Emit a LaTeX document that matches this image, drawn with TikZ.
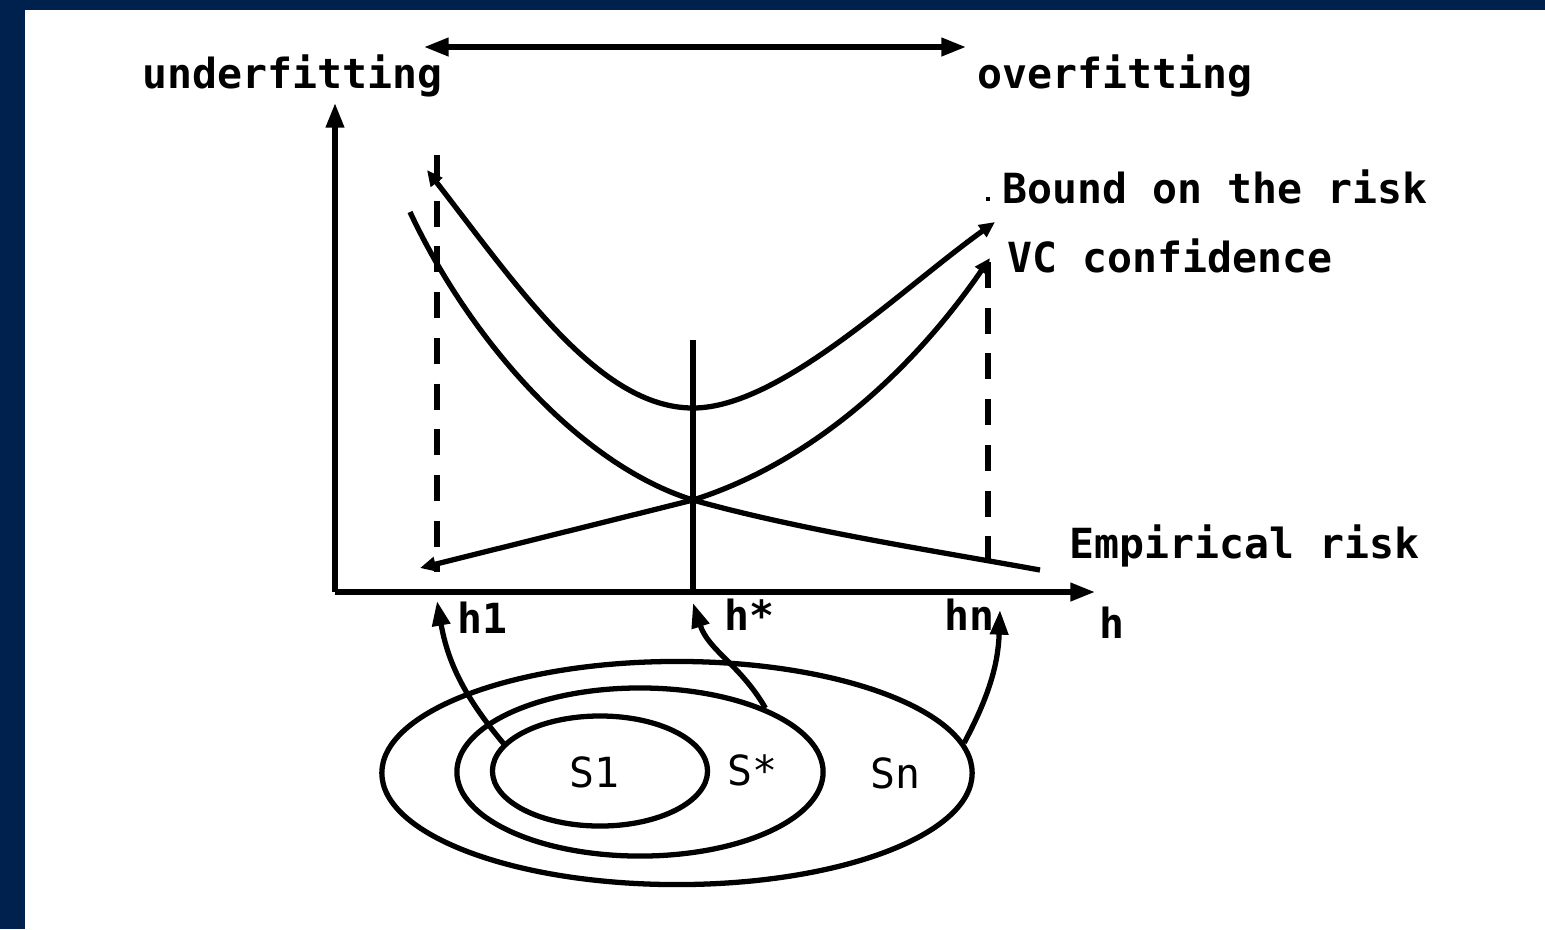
\documentclass[tikz,border=0pt]{standalone}
\usepackage{fontspec}
\setmonofont{DejaVu Sans Mono}
\usetikzlibrary{arrows.meta, shapes.geometric}
\definecolor{navy}{RGB}{0,33,77}
\tikzset{
    txt/.style={font=\fontsize{11.8}{14}\selectfont\ttfamily\bfseries, inner sep=0pt},
    setl/.style={font=\fontsize{11.8}{14}\selectfont\ttfamily, inner sep=0pt},
    oval/.style={draw, ellipse, line width=1.5pt, inner sep=0pt},
    dsh/.style={line width=1.8pt, dash pattern=on 7.4pt off 5.6pt},
    ctip/.style={{Triangle[length=4.5pt,width=4pt]}-{Triangle[length=4.5pt,width=4pt]}},
    bd/.style={>={Triangle[length=7pt,width=5pt]}, line width=1.5pt}
}

\begin{document}
\begin{tikzpicture}[bd, x=0.01cm, y=-0.01cm]
        % frame
        \fill[navy] (0,0) rectangle (1545,929);
        \fill[white] (25,10) rectangle (1545,929);

        % axes
        \coordinate (o) at (335,592);
        \coordinate (ytop) at (335,103);
        \coordinate (xend) at (1095,592);
        \draw[->] (o) -- (ytop);
        \draw[->] (o) -- (xend);

        % labels
        \node[txt, anchor=base west] (under) at (140,88) {underfitting};
        \node[txt, anchor=base west] (over) at (975,88) {overfitting};
        \node[txt, anchor=base west] (bound) at (1000,203) {Bound on the risk};
        \node[txt, anchor=base west] (vc) at (1005,272) {VC confidence};
        \node[txt, anchor=base west] (emp) at (1067,558) {Empirical risk};
        \node[txt, anchor=base west] (hax) at (1097,638) {h};
        \node[txt, anchor=base west] (hone) at (455,633) {h1};
        \node[txt, anchor=base west] (hstar) at (722,630) {h*};
        \node[txt, anchor=base west] (hn) at (942,630) {hn};

        \coordinate (ua) at (424,47);
        \coordinate (oa) at (966,47);
        \draw[<->] (ua) -- (oa);
        \fill (986,197) rectangle (990,201);

        % curves
        \draw[ctip] (427,170) .. controls (520,290) and (600,408) .. (693,408)
            .. controls (780,408) and (900,290) .. (995,222);
        \draw (410,212) .. controls (470,340) and (580,465) .. (693,500)
            .. controls (800,530) and (930,550) .. (1040,570);
        \draw[ctip] (420,568) -- (693,500) .. controls (820,460) and (920,360) .. (990,258);

        % h1, h*, hn
        \coordinate (d1a) at (437,155);
        \coordinate (d1b) at (437,572);
        \coordinate (dna) at (988,262);
        \coordinate (dnb) at (988,575);
        \coordinate (hsa) at (693,340);
        \draw[dsh] (d1a) -- (d1b);
        \draw[dsh] (dna) -- (dnb);
        \draw (hsa) -- (693,592);

        % nested sets
        \node[oval, minimum width=5.9cm, minimum height=2.23cm] (sn) at (677,773) {};
        \node[oval, minimum width=3.66cm, minimum height=1.68cm] (sstar) at (640,772) {};
        \node[oval, minimum width=2.15cm, minimum height=1.1cm] (s1) at (600,771) {};
        \node[setl] (ls1) at (594,772) {S1};
        \node[setl] (lss) at (752,770) {S*};
        \node[setl] (lsn) at (895,773) {Sn};

        \coordinate (t1) at (437,601);
        \coordinate (ts) at (693,603);
        \coordinate (tn) at (1000,610);
        \draw[->] (s1.164) to[out=130, in=-80] (t1);
        \draw[->] (sstar.27) to[out=120, in=-72] (ts);
        \draw[->] (sn.6) to[out=62, in=-92] (tn);
    \end{tikzpicture}
\end{document}
